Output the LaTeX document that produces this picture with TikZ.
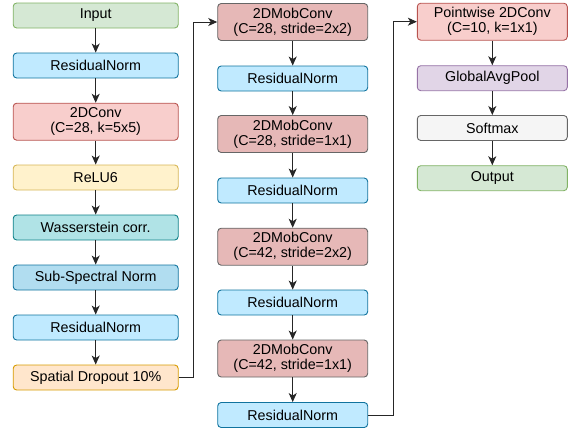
\documentclass[tikz,border=0pt]{standalone}
\usepackage{fontspec}
\setmainfont{Liberation Sans}
\usepackage{xcolor}
\usepackage{tikz}
\usetikzlibrary{arrows.meta}
\usetikzlibrary{positioning}

\definecolor{inFill}{HTML}{D5E8D4}
\definecolor{inLine}{HTML}{82B366}
\definecolor{rnFill}{HTML}{C0EAFF}
\definecolor{rnLine}{HTML}{10739E}
\definecolor{convFill}{HTML}{F8CECC}
\definecolor{convLine}{HTML}{B85450}
\definecolor{reluFill}{HTML}{FFF2CC}
\definecolor{reluLine}{HTML}{D6B656}
\definecolor{wassFill}{HTML}{B0E3E6}
\definecolor{wassLine}{HTML}{0E8088}
\definecolor{ssnFill}{HTML}{B1DDF0}
\definecolor{dropFill}{HTML}{FFE6CC}
\definecolor{dropLine}{HTML}{D79B00}
\definecolor{mobFill}{HTML}{E6B8B7}
\definecolor{mobLine}{HTML}{666666}
\definecolor{poolFill}{HTML}{E1D5E7}
\definecolor{poolLine}{HTML}{9673A6}
\definecolor{softFill}{HTML}{F5F5F5}

\tikzset{
	blk/.style={draw,rounded corners=3.5pt,line width=0.9pt,inner sep=0pt,align=center,
		minimum height=25pt,font=\fontsize{14.3}{15}\selectfont},
	wideblk/.style={blk,minimum width=165pt},
	narrowblk/.style={blk,minimum width=150pt},
	tallblk/.style={minimum height=37pt},
	conn/.style={-{Stealth[length=9pt,width=8pt,inset=2.5pt]},line width=1pt,black!85},
}

\begin{document}
\begin{tikzpicture}[x=1pt,y=-1pt]
	\useasboundingbox (0,0) rectangle (575,432);
		% first column
		\node[wideblk,fill=inFill,draw=inLine] (input) at (95.7,15.5) {Input};
		\node[wideblk,fill=rnFill,draw=rnLine] (rnA) at (95.7,65.5) {ResidualNorm};
		\node[wideblk,tallblk,fill=convFill,draw=convLine] (conv) at (95.7,121.7) {2DConv\\(C=28, k=5x5)};
		\node[wideblk,fill=reluFill,draw=reluLine] (relu) at (95.7,177.5) {ReLU6};
		\node[wideblk,fill=wassFill,draw=wassLine] (wass) at (95.7,227.5) {Wasserstein corr.};
		\node[wideblk,fill=ssnFill,draw=rnLine] (ssn) at (95.7,277.5) {Sub-Spectral Norm};
		\node[wideblk,fill=rnFill,draw=rnLine] (rnB) at (95.7,327.5) {ResidualNorm};
		\node[wideblk,fill=dropFill,draw=dropLine] (drop) at (95.7,377.5) {Spatial Dropout 10\%};
		% second column
		\node[narrowblk,tallblk,fill=mobFill,draw=mobLine] (mobA) at (292.7,22) {2DMobConv\\(C=28, stride=2x2)};
		\node[narrowblk,fill=rnFill,draw=rnLine] (rnC) at (292.7,78.5) {ResidualNorm};
		\node[narrowblk,tallblk,fill=mobFill,draw=mobLine] (mobB) at (292.7,134) {2DMobConv\\(C=28, stride=1x1)};
		\node[narrowblk,fill=rnFill,draw=rnLine] (rnD) at (292.7,190.5) {ResidualNorm};
		\node[narrowblk,tallblk,fill=mobFill,draw=mobLine] (mobC) at (292.7,246.7) {2DMobConv\\(C=42, stride=2x2)};
		\node[narrowblk,fill=rnFill,draw=rnLine] (rnE) at (292.7,302.5) {ResidualNorm};
		\node[narrowblk,tallblk,fill=mobFill,draw=mobLine] (mobD) at (292.7,358.5) {2DMobConv\\(C=42, stride=1x1)};
		\node[narrowblk,fill=rnFill,draw=rnLine] (rnF) at (292.7,415) {ResidualNorm};
		% third column
		\node[narrowblk,tallblk,fill=convFill,draw=convLine] (point) at (492.3,21.7) {Pointwise 2DConv\\(C=10, k=1x1)};
		\node[narrowblk,fill=poolFill,draw=poolLine] (pool) at (492.3,78.2) {GlobalAvgPool};
		\node[narrowblk,fill=softFill,draw=mobLine] (soft) at (492.3,128) {Softmax};
		\node[narrowblk,fill=inFill,draw=inLine] (output) at (492.3,178.2) {Output};
		% connectors
		\foreach \a/\b in {input/rnA,rnA/conv,conv/relu,relu/wass,wass/ssn,ssn/rnB,rnB/drop,
			mobA/rnC,rnC/mobB,mobB/rnD,rnD/mobC,mobC/rnE,rnE/mobD,mobD/rnF,
			point/pool,pool/soft,soft/output}
			\draw[conn] (\a) -- (\b);
		\draw[conn] (drop.east) -- ++(15,0) |- (mobA.west);
		\draw[conn] (rnF.east) -- ++(25,0) |- (point.west);
	\end{tikzpicture}
\end{document}
